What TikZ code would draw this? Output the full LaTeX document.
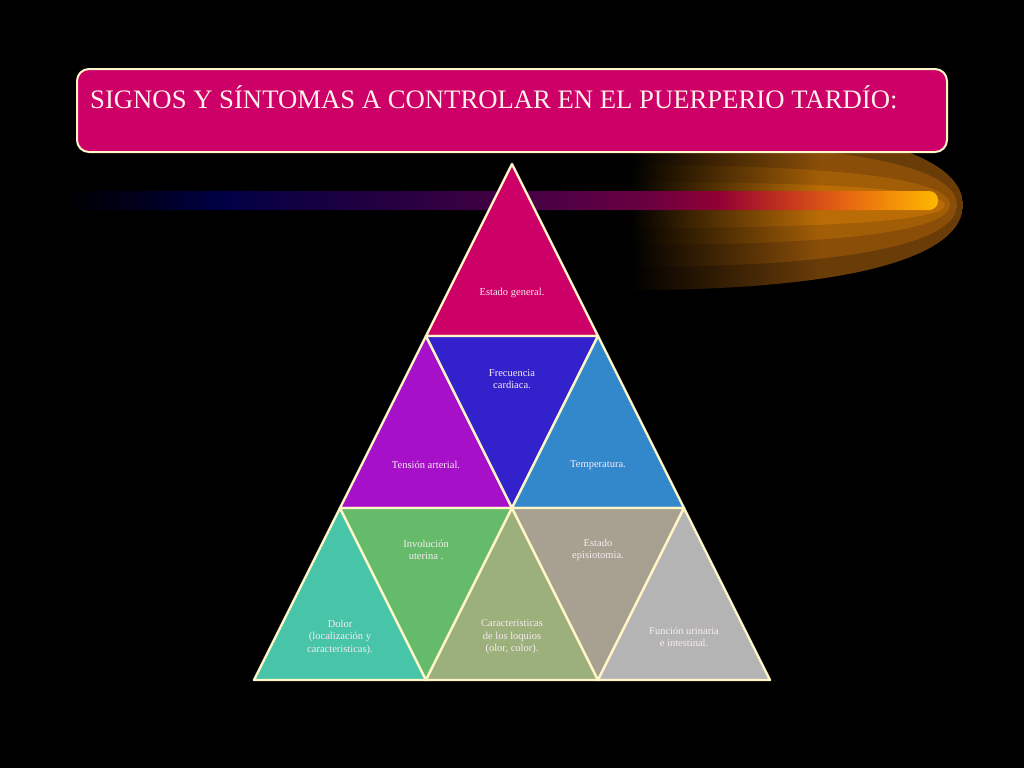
\documentclass[tikz,border=0pt]{standalone}
\usepackage{fontspec}
\setmainfont{Liberation Serif}
\usetikzlibrary{positioning}
\definecolor{cream}{HTML}{FFF6C8}
\definecolor{magentaA}{HTML}{CC0066}
\definecolor{purpleA}{HTML}{A510C8}
\definecolor{blueA}{HTML}{3322CC}
\definecolor{skyA}{HTML}{3388CC}
\definecolor{tealA}{HTML}{48C4A8}
\definecolor{greenA}{HTML}{66BB6A}
\definecolor{oliveA}{HTML}{9CB07C}
\definecolor{taupeA}{HTML}{A8A090}
\definecolor{greyA}{HTML}{B4B4B4}
\definecolor{txt}{HTML}{F8ECF2}
\definecolor{titletxt}{HTML}{FFF0EC}
\definecolor{gA}{HTML}{6A3C08}
\definecolor{gB}{HTML}{8A4E08}
\definecolor{gC}{HTML}{A25E06}
\definecolor{gD}{HTML}{BA6C06}
\definecolor{b0}{HTML}{000000}
\definecolor{b1}{HTML}{000020}
\definecolor{b2}{HTML}{000045}
\definecolor{b3}{HTML}{280040}
\definecolor{b4}{HTML}{500045}
\definecolor{b5}{HTML}{6A0040}
\definecolor{b6}{HTML}{900035}
\definecolor{b7}{HTML}{C03020}
\definecolor{b8}{HTML}{E86A10}
\definecolor{b9}{HTML}{FFB800}
\pgfdeclarehorizontalshading{barshade}{100bp}{%
color(0bp)=(b0); color(25bp)=(b0); color(30bp)=(b1); color(34bp)=(b2);
color(44.5bp)=(b3); color(53.5bp)=(b4); color(58.5bp)=(b5); color(62.5bp)=(b6);
color(66bp)=(b7); color(70bp)=(b8); color(75bp)=(b9); color(100bp)=(b9)}
\tikzset{
  tri/.style={draw=cream, line width=2.4pt, line join=round},
  lbl/.style={text=txt, font=\fontsize{10.5}{12.5}\selectfont, align=center, inner sep=0pt},
  titlebox/.style={draw=cream, line width=2pt, fill=magentaA, rounded corners=12pt,
    minimum width=870pt, minimum height=83pt, inner sep=0pt},
}
\begin{document}
\begin{tikzpicture}[x=1pt,y=-1pt]
\fill[black] (0,0) rectangle (1024,768);
\useasboundingbox (0,0) rectangle (1024,768);
% glow layers
\foreach \tip/\ry/\col in {963/85/gA, 957/62/gB, 950/40/gC, 945/23/gD}{
  \begin{scope}
    \clip (630,{205-\ry}) .. controls (870,{205-\ry}) and (\tip,{205-0.55*\ry}) .. (\tip,205)
      .. controls (\tip,{205+0.55*\ry}) and (870,{205+\ry}) .. (630,{205+\ry}) -- cycle;
    \shade[left color=black, right color=\col] (630,100) rectangle (820,300);
    \fill[\col] (819.5,100) rectangle (\tip,300);
  \end{scope}
}
% bar
\shade[shading=barshade, rounded corners=9pt] (60,191) rectangle (938,210);
% title
\node[titlebox] (title) at (512,110.5) {};
\node[anchor=west, text=titletxt, font=\fontsize{26.7}{30}\selectfont, inner sep=0pt] (titletext) at (90,97)
  {SIGNOS Y SÍNTOMAS A CONTROLAR EN EL PUERPERIO TARDÍO:};
% triangles
\filldraw[tri, fill=magentaA] (512,164) -- (598,336) -- (426,336) -- cycle;
\filldraw[tri, fill=purpleA] (426,336) -- (512,508) -- (340,508) -- cycle;
\filldraw[tri, fill=blueA] (426,336) -- (598,336) -- (512,508) -- cycle;
\filldraw[tri, fill=skyA] (598,336) -- (684,508) -- (512,508) -- cycle;
\filldraw[tri, fill=tealA] (340,508) -- (426,680) -- (254,680) -- cycle;
\filldraw[tri, fill=greenA] (340,508) -- (512,508) -- (426,680) -- cycle;
\filldraw[tri, fill=oliveA] (512,508) -- (598,680) -- (426,680) -- cycle;
\filldraw[tri, fill=taupeA] (512,508) -- (684,508) -- (598,680) -- cycle;
\filldraw[tri, fill=greyA] (684,508) -- (770,680) -- (598,680) -- cycle;
% labels
\node[lbl] (estado) at (512,293) {Estado general.};
\node[lbl] (frec) at (512,379) {Frecuencia\\cardiaca.};
\node[lbl] (tension) at (426,465) {Tensión arterial.};
\node[lbl] (temp) at (598,465) {Temperatura.};
\node[lbl] (invol) at (426,550) {Involución\\uterina .};
\node[lbl] (episio) at (598,550) {Estado\\episiotomia.};
\node[lbl] (dolor) at (340,637) {Dolor\\(localización y\\caracteristicas).};
\node[lbl] (loquios) at (512,637) {Caracteristicas\\de los loquios\\(olor, color).};
\node[lbl] (funcion) at (684,637) {Función urinaria\\e intestinal.};
\end{tikzpicture}
\end{document}
